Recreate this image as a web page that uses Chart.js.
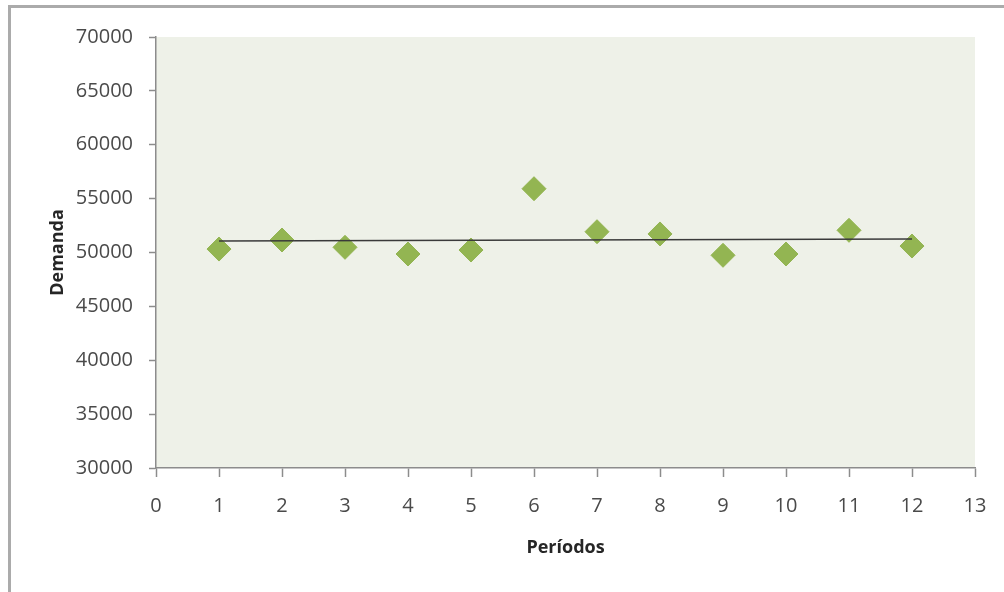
<!DOCTYPE html>
<html>
<head>
<meta charset="utf-8">
<script src="https://cdn.jsdelivr.net/npm/chart.js@4.4.1/dist/chart.umd.min.js"></script>
<style>
    html, body { margin: 0; padding: 0; background: #fff; }
    #wrap { width: 1004px; height: 592px; }
</style>
</head>
<body>
<div id="wrap"><canvas id="demand-chart" width="1004" height="592"></canvas></div>
<script>
// data
const periods = [1, 2, 3, 4, 5, 6, 7, 8, 9, 10, 11, 12];
const demand = [50320, 51160, 50480, 49860, 50230, 55920, 51930, 51720, 49740, 49860, 52060, 50600];

// trend line endpoints (as drawn)
const trendPeriods = [1, 12];
const trendValues = [51070, 51250];

// axes
const xMin = 0, xMax = 13, xStep = 1;
const yMin = 30000, yMax = 70000, yStep = 5000;
const xTitle = 'Períodos';
const yTitle = 'Demanda';

const css = {
    plotBg: '#eef1e8',
    frame: '#ababab',
    axis: '#8c8c8c',
    tickText: '#4a4a4a',
    titleText: '#262626',
    marker: '#93b552',
    trend: '#3a3a3a',
    font: "'Open Sans', 'Noto Sans', sans-serif"
};

const ctx = document.getElementById('demand-chart').getContext('2d');

// plot area fill + outer frame of the chart object
const plotBackground = {
    id: 'plotBackground',
    beforeDraw(chart) {
        const {ctx, chartArea: a} = chart;
        ctx.save();
        ctx.fillStyle = css.plotBg;
        ctx.fillRect(a.left, a.top, a.right - a.left, a.bottom - a.top);
        ctx.strokeStyle = css.frame;
        ctx.lineWidth = 3;
        ctx.strokeRect(9.5, 6.5, 1200, 800);
        ctx.restore();
    }
};

const points = periods.map((p, i) => ({x: p, y: demand[i]}));
const trend = trendPeriods.map((p, i) => ({x: p, y: trendValues[i]}));

new Chart(ctx, {
    type: 'scatter',
    data: {
        datasets: [
            {
                label: 'Tendencia',
                data: trend,
                showLine: true,
                borderColor: css.trend,
                borderWidth: 1.5,
                pointRadius: 0,
                fill: false
            },
            {
                label: 'Demanda',
                data: points,
                pointStyle: 'rectRot',
                pointRadius: 12,
                pointBackgroundColor: css.marker,
                pointBorderColor: css.marker,
                pointBorderWidth: 1
            }
        ]
    },
    options: {
        responsive: false,
        animation: false,
        layout: {
            padding: { left: 43, top: 37, right: 29, bottom: 29 }
        },
        scales: {
            x: {
                type: 'linear',
                min: xMin,
                max: xMax,
                afterFit: (scale) => { scale.height = 95; },
                border: { color: css.axis, width: 1.5 },
                grid: {
                    drawOnChartArea: false,
                    drawTicks: true,
                    tickLength: 9,
                    tickColor: css.axis,
                    tickWidth: 1.5
                },
                ticks: {
                    stepSize: xStep,
                    color: css.tickText,
                    padding: 17,
                    font: { family: css.font, size: 20 }
                },
                title: {
                    display: true,
                    text: xTitle,
                    color: css.titleText,
                    font: { family: css.font, size: 18, weight: 'bold' }
                }
            },
            y: {
                type: 'linear',
                min: yMin,
                max: yMax,
                afterFit: (scale) => { scale.width = 113; },
                border: { color: css.axis, width: 1.5 },
                grid: {
                    drawOnChartArea: false,
                    drawTicks: true,
                    tickLength: 7,
                    tickColor: css.axis,
                    tickWidth: 1.5
                },
                ticks: {
                    stepSize: yStep,
                    color: css.tickText,
                    padding: 16,
                    font: { family: css.font, size: 20 },
                    callback: (value) => String(value)
                },
                title: {
                    display: true,
                    text: yTitle,
                    color: css.titleText,
                    font: { family: css.font, size: 18, weight: 'bold' }
                }
            }
        },
        plugins: {
            legend: { display: false },
            tooltip: { enabled: false }
        }
    },
    plugins: [plotBackground]
});
</script>
</body>
</html>
